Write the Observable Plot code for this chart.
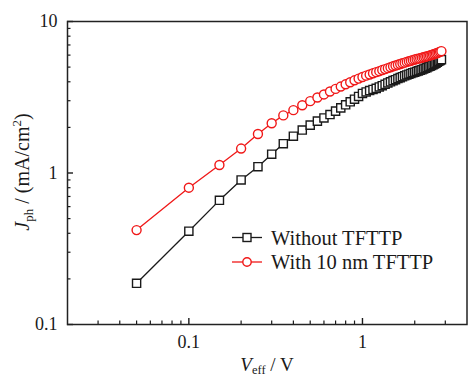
<!DOCTYPE html>
<html><head><meta charset="utf-8">
<script src="https://cdn.jsdelivr.net/npm/d3@7"></script>
<script src="https://cdn.jsdelivr.net/npm/@observablehq/plot@0.6"></script>
<style>
body{margin:0;background:#fff;}
#chart{width:468px;height:376px;}
</style></head><body><div id="chart"></div>
<script>
const vEff = [0.05,0.1,0.15,0.2,0.25,0.3,0.35,0.4,0.45,0.5,0.55,0.6,0.65,0.7,0.75,0.8,0.85,0.9,0.95,1.0,
  1.05,1.1,1.15,1.2,1.25,1.3,1.35,1.4,1.45,1.5,1.55,1.6,1.65,1.7,1.75,1.8,1.85,1.9,1.95,2.0,
  2.05,2.1,2.15,2.2,2.25,2.3,2.35,2.4,2.45,2.5,2.55,2.6,2.65,2.7,2.75,2.8,2.85];
const jWithout = [0.187,0.413,0.66,0.90,1.10,1.33,1.56,1.75,1.92,2.07,2.20,2.31,2.43,2.56,2.69,2.82,2.95,3.07,3.20,3.35,
  3.43,3.50,3.56,3.62,3.70,3.77,3.85,3.93,4.00,4.07,4.13,4.20,4.26,4.32,4.38,4.44,4.49,4.54,4.59,4.63,
  4.68,4.72,4.77,4.81,4.86,4.91,4.96,5.02,5.07,5.13,5.19,5.25,5.31,5.38,5.46,5.53,5.60];
const jWith = [0.42,0.80,1.13,1.45,1.81,2.13,2.40,2.60,2.80,2.98,3.15,3.30,3.45,3.59,3.72,3.85,3.97,4.09,4.20,4.30,
  4.39,4.47,4.55,4.63,4.70,4.78,4.85,4.92,4.99,5.06,5.12,5.18,5.24,5.30,5.35,5.41,5.46,5.51,5.56,5.61,
  5.65,5.69,5.73,5.77,5.81,5.85,5.89,5.93,5.97,6.01,6.06,6.10,6.15,6.20,6.25,6.31,6.37];
const seriesNames = ["Without TFTTP", "With 10 nm TFTTP"];
const seriesColors = ["#1a1a1a", "#f01818"];
const xMajorTicks = [0.1, 1];
const xMinorTicks = [0.03,0.04,0.05,0.06,0.07,0.08,0.09,0.2,0.3,0.4,0.5,0.6,0.7,0.8,0.9,2,3];
const yMajorTicks = [0.1, 1, 10];
const yMinorTicks = [0.2,0.3,0.4,0.5,0.6,0.7,0.8,0.9,2,3,4,5,6,7,8,9];

const black = vEff.map((v, i) => ({v, j: jWithout[i]}));
const red = vEff.map((v, i) => ({v, j: jWith[i]}));

const plot = Plot.plot({
  width: 468, height: 376,
  marginLeft: 67, marginRight: 1.5, marginTop: 21, marginBottom: 52,
  x: {type: "log", domain: [0.02, 4]},
  y: {type: "log", domain: [0.1, 10]},
  style: {fontFamily: "'Liberation Serif', 'Times New Roman', serif", fontSize: "18px", background: "white", color: "#1a1a1a"},
  marks: [
    Plot.axisX(xMinorTicks, {tickSize: -3.5, tickFormat: () => "", label: null, strokeWidth: 1.2}),
    Plot.axisX(xMajorTicks, {tickSize: -6, tickFormat: () => "", label: null, strokeWidth: 1.4}),
    Plot.axisX(xMajorTicks, {tickSize: 0, tickPadding: 11, tickFormat: d => String(d), label: null, fontSize: 18}),
    Plot.axisY(yMinorTicks, {tickSize: -3.5, tickFormat: () => "", label: null, strokeWidth: 1.2}),
    Plot.axisY(yMajorTicks, {tickSize: -6, tickFormat: () => "", label: null, strokeWidth: 1.4}),
    Plot.axisY(yMajorTicks, {tickSize: 0, tickPadding: 10, tickFormat: d => String(d), label: null, fontSize: 18}),
    Plot.line(black, {x: "v", y: "j", stroke: seriesColors[0], strokeWidth: 1.3}),
    Plot.dot(black, {x: "v", y: "j", symbol: "square", r: 4.6, stroke: seriesColors[0], fill: "white", strokeWidth: 1.4}),
    Plot.line(red, {x: "v", y: "j", stroke: seriesColors[1], strokeWidth: 1.3}),
    Plot.dot(red, {x: "v", y: "j", symbol: "circle", r: 4.5, stroke: seriesColors[1], fill: "white", strokeWidth: 1.4}),
    Plot.frame({stroke: "#222", strokeWidth: 1.5})
  ]
});
document.getElementById("chart").append(plot);

const svg = d3.select(plot);
const font = "'Liberation Serif', 'Times New Roman', serif";

// Legend
const legendRows = [{y: 237.5, name: seriesNames[0], color: seriesColors[0], sym: "square"},
                    {y: 262, name: seriesNames[1], color: seriesColors[1], sym: "circle"}];
const lg = svg.append("g").attr("text-anchor", "start");
legendRows.forEach(r => {
  lg.append("line").attr("x1", 232).attr("x2", 262).attr("y1", r.y).attr("y2", r.y)
    .attr("stroke", r.color).attr("stroke-width", 1.3);
  if (r.sym === "square") {
    lg.append("rect").attr("x", 247 - 4).attr("y", r.y - 4).attr("width", 8).attr("height", 8)
      .attr("fill", "white").attr("stroke", r.color).attr("stroke-width", 1.4);
  } else {
    lg.append("circle").attr("cx", 247).attr("cy", r.y).attr("r", 4.2)
      .attr("fill", "white").attr("stroke", r.color).attr("stroke-width", 1.4);
  }
  lg.append("text").attr("x", 271).attr("y", r.y + 7).attr("text-anchor", "start")
    .attr("font-family", font).attr("font-size", 20.5)
    .attr("fill", "#1a1a1a").text(r.name);
});

// X axis label
const xl = svg.append("text").attr("x", 267).attr("y", 370.5).attr("text-anchor", "middle")
  .attr("font-family", font).attr("font-size", 19).attr("fill", "#1a1a1a");
xl.append("tspan").attr("font-style", "italic").text("V");
xl.append("tspan").attr("font-size", 12.5).attr("dy", 3.5).text("eff");
xl.append("tspan").attr("dy", -3.5).text(" / V");

// Y axis label
const yl = svg.append("text").attr("transform", "translate(29,172) rotate(-90)").attr("text-anchor", "middle")
  .attr("font-family", font).attr("font-size", 20).attr("fill", "#1a1a1a");
yl.append("tspan").attr("font-style", "italic").text("J");
yl.append("tspan").attr("font-size", 13).attr("dy", 4).text("ph");
yl.append("tspan").attr("dy", -4).text(" / (mA/cm");
yl.append("tspan").attr("font-size", 13).attr("dy", -8).text("2");
yl.append("tspan").attr("dy", 8).text(")");
</script></body></html>
